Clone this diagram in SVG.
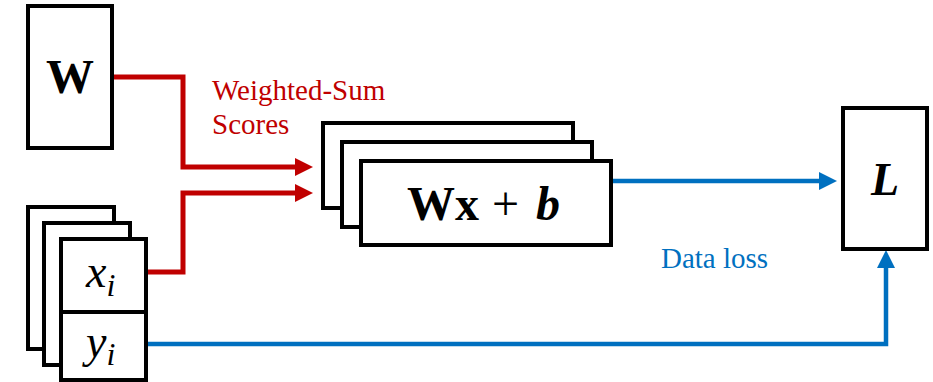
<svg xmlns="http://www.w3.org/2000/svg" width="933" height="382" viewBox="0 0 933 382">
<style>
.box{fill:#fff;stroke:#000;stroke-width:4}
.red{fill:none;stroke:#C00000;stroke-width:5}
.blue{fill:none;stroke:#0070C0;stroke-width:4.5}
text{font-family:'Liberation Serif','Times New Roman','DejaVu Serif',serif}
.lbl{font-size:29px}
</style>
<defs>
<marker id="ar" markerUnits="userSpaceOnUse" markerWidth="18" markerHeight="20" refX="0" refY="10" orient="auto" viewBox="0 0 18 20"><path d="M0,1 L18,10 L0,19 Z" fill="#C00000"/></marker>
<marker id="ab" markerUnits="userSpaceOnUse" markerWidth="18" markerHeight="20" refX="0" refY="10" orient="auto" viewBox="0 0 18 20"><path d="M0,1 L18,10 L0,19 Z" fill="#0070C0"/></marker>
</defs>
<g id="connectors">
<polyline class="red" points="113,77 183,77 183,167 295,167" marker-end="url(#ar)"/>
<polyline class="red" points="146,272 183,272 183,193 295,193" marker-end="url(#ar)"/>
<polyline class="blue" points="611,181 819,181" marker-end="url(#ab)"/>
<polyline class="blue" points="146,344 886,344 886,268" marker-end="url(#ab)"/>
</g>
<g id="W">
<rect class="box" x="28" y="6" width="84" height="142"/>
<text x="70" y="93" font-size="48" font-weight="bold" text-anchor="middle">W</text>
</g>
<g id="xy">
<rect class="box" x="28" y="207" width="86" height="142"/>
<rect class="box" x="44" y="223" width="86" height="142"/>
<rect class="box" x="61" y="239" width="85" height="141"/>
<line x1="61" y1="312" x2="146" y2="312" stroke="#000" stroke-width="4"/>
<text x="86" y="287" font-size="46" font-style="italic">x<tspan font-size="32" dy="9">i</tspan></text>
<text x="86" y="357" font-size="46" font-style="italic">y<tspan font-size="32" dy="8">i</tspan></text>
</g>
<g id="Wxb">
<rect class="box" x="323" y="123" width="250" height="85"/>
<rect class="box" x="342" y="142" width="250" height="85"/>
<rect class="box" x="361" y="161" width="250" height="84"/>
<text y="220" font-size="48" font-weight="bold"><tspan x="407">Wx</tspan><tspan x="492" font-weight="normal">+</tspan><tspan x="536" font-style="italic">b</tspan></text>
</g>
<g id="L">
<rect class="box" x="843" y="108" width="84" height="141"/>
<text x="885" y="195" font-size="46" font-weight="bold" font-style="italic" text-anchor="middle">L</text>
</g>
<g id="labels">
<text class="lbl" x="212" y="100" fill="#C00000">Weighted-Sum</text>
<text class="lbl" x="212" y="134" fill="#C00000">Scores</text>
<text class="lbl" x="661" y="268" fill="#0070C0">Data loss</text>
</g>
</svg>
